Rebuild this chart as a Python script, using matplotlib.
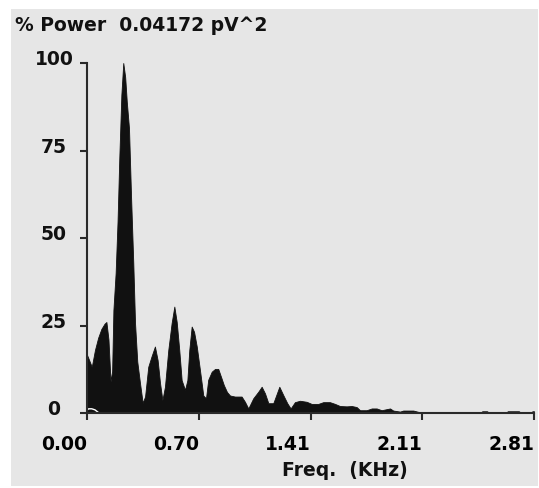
import matplotlib
matplotlib.use("Agg")
import matplotlib.pyplot as plt
from matplotlib.patches import Rectangle
from matplotlib.transforms import blended_transform_factory, ScaledTranslation

# ---- data ----
freq_khz = [0.000, 0.010, 0.030, 0.050, 0.070, 0.090, 0.110, 0.122, 0.135, 0.148,
            0.158, 0.166, 0.180, 0.192, 0.203, 0.216, 0.228, 0.240, 0.250, 0.264,
            0.277, 0.291, 0.302, 0.316, 0.333, 0.350, 0.365, 0.385, 0.405, 0.427,
            0.444, 0.459, 0.474, 0.490, 0.511, 0.532, 0.549, 0.564, 0.580, 0.595,
            0.616, 0.631, 0.643, 0.658, 0.673, 0.690, 0.710, 0.731, 0.748, 0.762,
            0.784, 0.805, 0.825, 0.845, 0.860, 0.880, 0.899, 0.930, 0.972, 0.993,
            1.014, 1.045, 1.077, 1.098, 1.119, 1.140, 1.171, 1.209, 1.234, 1.259,
            1.280, 1.307, 1.339, 1.381, 1.412, 1.454, 1.485, 1.527, 1.559, 1.590,
            1.632, 1.664, 1.695, 1.716, 1.758, 1.790, 1.821, 1.852, 1.905, 1.925,
            1.968, 1.988, 2.051, 2.093, 2.150, 2.470, 2.485, 2.515, 2.530, 2.630,
            2.645, 2.715, 2.730, 2.790, 2.800, 2.810]
power_pct = [16.6, 15.5, 13.2, 18.0, 21.5, 24.0, 25.5, 26.0, 21.0, 9.0,
             12.0, 29.4, 40.0, 54.7, 72.8, 90.9, 100.0, 96.0, 89.0, 81.4,
             61.8, 42.8, 25.7, 14.7, 8.6, 2.9, 4.7, 13.2, 16.1, 19.0,
             15.1, 8.6, 3.7, 7.5, 18.0, 25.7, 30.4, 26.0, 18.0, 9.4,
             6.6, 9.4, 18.0, 24.7, 23.2, 19.0, 12.3, 5.0, 4.2, 9.5,
             11.8, 12.6, 12.6, 10.0, 8.0, 6.0, 5.0, 4.7, 4.7, 3.2,
             1.3, 4.2, 6.1, 7.5, 5.6, 2.8, 2.8, 7.5, 5.1, 2.8,
             1.3, 3.1, 3.5, 3.2, 2.6, 2.6, 3.1, 3.1, 2.6, 2.0,
             1.9, 2.0, 1.7, 0.8, 0.8, 1.3, 1.3, 0.8, 1.3, 0.7,
             0.4, 0.7, 0.7, 0.2, 0.0, 0.0, 0.5, 0.5, 0.0, 0.0,
             0.5, 0.5, 0.0, 0.0, 0.5, 0.5]

# faint white trace near the origin
aux_freq = [0.000, 0.010, 0.030, 0.050, 0.070]
aux_power = [0.8, 1.2, 1.2, 0.9, 0.2]

xticks = [0.0, 0.7025, 1.405, 2.1075, 2.81]
xtick_labels = ["0.00", "0.70", "1.41", "2.11", "2.81"]
yticks = [0, 25, 50, 75, 100]
ytick_labels = ["0", "25", "50", "75", "100"]

title_text = "% Power  0.04172 pV^2"
xlabel_text = "Freq.  (KHz)"

# ---- figure ----
W, H = 539, 488
plt.rcParams['font.family'] = ['DejaVu Sans']
plt.rcParams['font.weight'] = 'bold'
FS = 13.5

fig = plt.figure(figsize=(W / 100, H / 100), dpi=100)
fig.patch.set_facecolor('white')
fig.add_artist(Rectangle((11 / W, 2 / H), 527 / W, 477 / H, transform=fig.transFigure,
                         facecolor='#e6e6e6', edgecolor='none', zorder=0))

ax = fig.add_axes([87 / W, 75 / H, 447 / W, 350 / H])
ax.set_facecolor('none')

ax.fill_between(freq_khz, 0, power_pct, color='#111111', lw=0.6, edgecolor='#111111')
ax.plot(aux_freq, aux_power, color='white', lw=1.0)

ax.set_xlim(0, 2.81)
ax.set_ylim(0, 100)

for s in ('top', 'right'):
    ax.spines[s].set_visible(False)
for s in ('left', 'bottom'):
    ax.spines[s].set_linewidth(1.5)
    ax.spines[s].set_color('#2a2a2a')

ax.set_xticks(xticks)
ax.set_xticklabels(xtick_labels, ha='right', fontsize=FS, fontweight='bold')
ax.set_yticks(yticks)
ax.set_yticklabels([])
ax.tick_params(axis='both', direction='out', length=5, width=1.5, color='#2a2a2a')
ax.tick_params(axis='x', pad=11)

# y tick labels centred at a fixed column, slightly above the tick
ytrans = blended_transform_factory(ax.transAxes, ax.transData) + \
    ScaledTranslation(0, 3.5 / 100, fig.dpi_scale_trans)
for v, lab in zip(yticks, ytick_labels):
    ax.text(-33 / 447, v, lab, transform=ytrans, ha='center', va='center',
            fontsize=FS, fontweight='bold', color='#111111')

fig.text(15 / W, 1 - 31 / H, title_text, ha='left', va='baseline',
         fontsize=FS, fontweight='bold', color='#111111')
fig.text(345 / W, 1 - 476 / H, xlabel_text, ha='center', va='baseline',
         fontsize=FS, fontweight='bold', color='#111111')

fig.savefig('out.png', dpi=100, facecolor='white')
